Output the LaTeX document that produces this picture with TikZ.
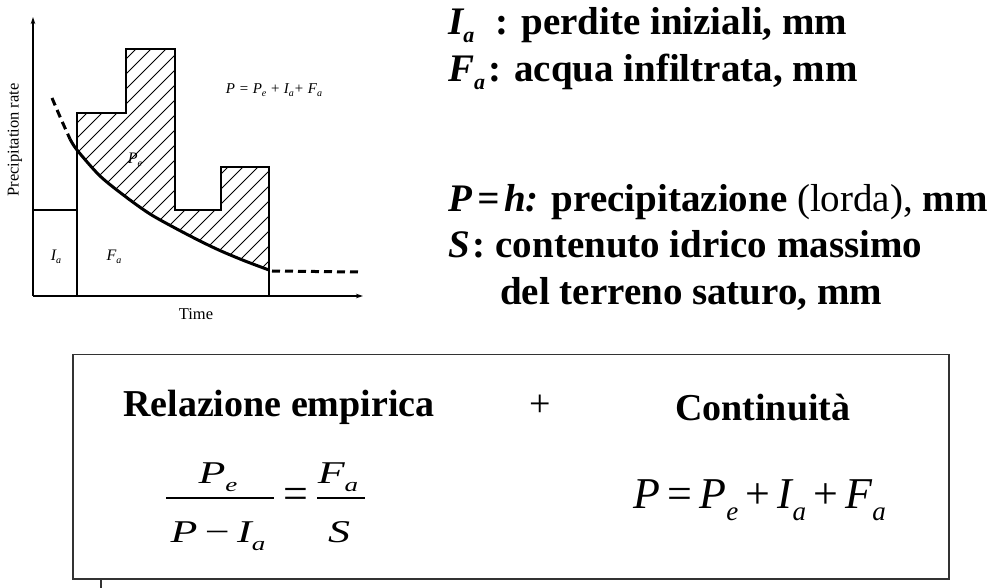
\documentclass[tikz,border=0pt]{standalone}
\usepackage{graphicx}
\usepackage{fontspec}
\setmainfont{Liberation Serif}[BoldFont={Liberation Serif Bold},ItalicFont={Liberation Serif Italic},BoldItalicFont={Liberation Serif Bold Italic}]
\usetikzlibrary{arrows.meta}
\newcommand\bsub[1]{\raisebox{-8pt}{\fontsize{22}{22}\selectfont\bfseries\itshape #1}}
\newcommand\esub[1]{\raisebox{-12pt}{\fontsize{27}{27}\selectfont\itshape #1}}
\newcommand\csub[1]{\raisebox{-3pt}{\fontsize{10}{10}\selectfont\itshape #1}}
\newcommand\sq[1]{\scalebox{1}[0.72]{#1}}
\tikzset{
  axis/.style={line width=1.2pt,-{Stealth[length=7pt,width=4.5pt]}},
  barline/.style={line width=1.2pt},
  hatchline/.style={line width=0.8pt},
  curvesolid/.style={line width=3pt},
  curvedash/.style={line width=3pt,dash pattern=on 8pt off 5pt},
  charttext/.style={font=\fontsize{16.5}{16.5}\selectfont,inner sep=0pt},
  bigtext/.style={font=\fontsize{39}{41}\selectfont,anchor=base west,inner sep=0pt},
  headtext/.style={font=\fontsize{38}{40}\selectfont,anchor=base west,inner sep=0pt},
  eqtext/.style={font=\fontsize{44}{46}\selectfont,inner sep=0pt},
  fracbar/.style={line width=1.8pt},
}
\begin{document}
\begin{tikzpicture}[x=1pt,y=-1pt]
\useasboundingbox (0,0) rectangle (997,588);
% ---------- chart ----------
\coordinate (O) at (33,296);
\coordinate (ytip) at (33,17);
\coordinate (xtip) at (363,296);
\draw[axis] (O) -- (ytip);
\draw[axis] (O) -- (xtip);
% hatch
\begin{scope}
\clip (77,296) -- (77,113) -- (126,113) -- (126,49) -- (175,49) -- (175,210) -- (221,210) -- (221,167) -- (269,167) -- (269,296) -- cycle;
\clip (60,0) -- (60,125) -- plot[smooth] coordinates {(70,139) (77,150) (100,176) (126,197) (150,214) (175,228) (200,241) (221,251) (245,261) (269,270)} -- (290,270) -- (290,0) -- cycle;
\foreach \i in {-190,-175,...,280} \draw[hatchline] (\i,300) -- (\i+300,0);
\end{scope}
% bars
\draw[barline] (33,210) -- (77,210);
\draw[barline] (77,296) -- (77,113) -- (126,113) -- (126,49) -- (175,49) -- (175,210) -- (221,210) -- (221,167) -- (269,167) -- (269,296);
% curve
\draw[curvedash] plot[smooth] coordinates {(52,98) (61,119) (70,139)};
\draw[curvesolid] plot[smooth] coordinates {(70,139) (77,150) (100,176) (126,197) (150,214) (175,228) (200,241) (221,251) (245,261) (269,270)};
\draw[curvedash] (272,271) -- (358,272);
% labels
\node[charttext,rotate=90] (ylab) at (15,140) {Precipitation rate};
\node[charttext] (xlab) at (196,314) {Time};
\node[charttext,font=\fontsize{15}{15}\selectfont\itshape] (ceq) at (274,90) {P = P\csub{e} + I\csub{a}+ F\csub{a}};
\node[charttext,font=\fontsize{16}{16}\selectfont\itshape] (lPe) at (135,160) {P\csub{e}};
\node[charttext,font=\fontsize{16}{16}\selectfont\itshape] (lIa) at (56,257) {I\csub{a}};
\node[charttext,font=\fontsize{16}{16}\selectfont\itshape] (lFa) at (114,257) {F\csub{a}};
% ---------- right column ----------
\node[bigtext] (t1) at (448,35) {\bfseries\itshape I\bsub{a}\hspace{21pt}\upshape: perdite iniziali, mm};
\node[bigtext] (t2) at (448,82) {\bfseries\itshape F\bsub{a}\hspace{3pt}\upshape: acqua infiltrata, mm};
\node[bigtext] (t3) at (448,212) {\bfseries\itshape P\hspace{5pt}=\hspace{5pt}h: \upshape precipitazione \mdseries(lorda), \bfseries mm};
\node[bigtext] (t4) at (448,258) {\bfseries\itshape S\hspace{3pt}\upshape: contenuto idrico massimo};
\node[bigtext] (t5) at (500,305) {\bfseries del terreno saturo, mm};
% ---------- box ----------
\node[draw=black!80,line width=1.5pt,minimum width=876pt,minimum height=224pt,anchor=north west,inner sep=0pt] (box) at (72,354) {};
\draw[line width=1.2pt,black!80] (101,578) -- (101,588);
\node[headtext] (h1) at (123,416) {\bfseries Relazione empirica};
\node[headtext,anchor=center] (plus) at (540,406) {+};
\node[headtext] (h2) at (675,420) {\bfseries Continuità};
% fraction
\node[eqtext,anchor=base] (num1) at (218,483) {\sq{\itshape P\esub{e}}};
\node[eqtext,anchor=base] (den1) at (218,542) {\sq{\itshape P\,\upshape−\,\itshape I\esub{a}}};
\draw[fracbar] (166,498) -- (274,498);
\node[eqtext] (eq1) at (296,498) {=};
\node[eqtext,anchor=base] (num2) at (338,483) {\sq{\itshape F\esub{a}}};
\node[eqtext,anchor=base] (den2) at (339,542) {\sq{\itshape S}};
\draw[fracbar] (317,498) -- (365,498);
% continuity eq
\node[eqtext,anchor=base west] (ceq2) at (633,508) {\itshape P\,\upshape=\,\itshape P\esub{e}\,\upshape+\,\itshape I\esub{a}\,\upshape+\,\itshape F\esub{a}};
\end{tikzpicture}
\end{document}
